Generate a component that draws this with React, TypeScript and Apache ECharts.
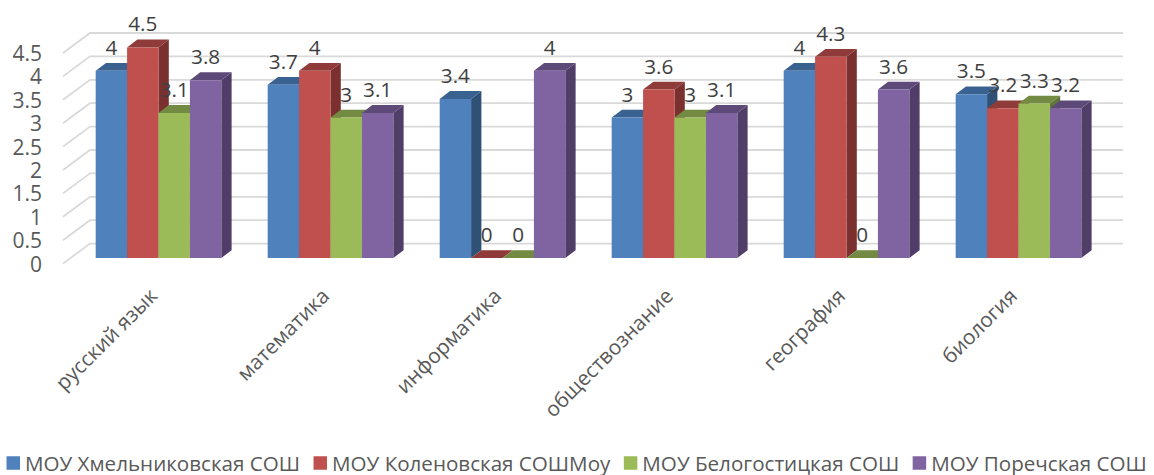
import React, { useEffect, useRef } from "react";
import * as echarts from "echarts";

const categories = ["русский язык", "математика", "информатика", "обществознание", "география", "биология"];
const schools = ["МОУ Хмельниковская СОШ", "МОУ Коленовская СОШМоу", "МОУ Белогостицкая СОШ", "МОУ Поречская СОШ"];
const khmelnikovskaya = [4, 3.7, 3.4, 3, 4, 3.5];
const kolenovskaya = [4.5, 4, 0, 3.6, 4.3, 3.2];
const belogostitskaya = [3.1, 3, 0, 3, 0, 3.3];
const porechskaya = [3.8, 3.1, 4, 3.1, 3.6, 3.2];
const seriesValues = [khmelnikovskaya, kolenovskaya, belogostitskaya, porechskaya];
const yTicks = [0, 0.5, 1, 1.5, 2, 2.5, 3, 3.5, 4, 4.5];
const frontColors = ["#4f81bd", "#c0504d", "#9bbb59", "#8064a2"];
const topColors = ["#3a6291", "#8e3b39", "#728a41", "#5e4a78"];
const sideColors = ["#2f5175", "#7a302e", "#5f7436", "#503d68"];

const FONT = "'Open Sans', sans-serif";
const BAR_DX = 10.3;
const BAR_DY = 7.8;
const WALL_DX = 27;
const WALL_DY = 20;

export default function App() {
  const ref = useRef<HTMLDivElement>(null);
  useEffect(() => {
    document.body.style.margin = "0";
    const chart = echarts.init(ref.current!, null, { renderer: "svg" });
    const barSeries = seriesValues.map((values, s) => ({
      type: "custom",
      name: schools[s],
      coordinateSystem: "cartesian2d",
      xAxisIndex: 1,
      yAxisIndex: 1,
      z: 3 + s,
      clip: false,
      itemStyle: { color: frontColors[s] },
      data: values.map((v, i) => [i, v]),
      encode: { x: 0, y: 1 },
      renderItem: (_p: any, api: any) => {
        const band = api.size([1, 0])[0];
        const w = band * 0.1826;
        const val = api.value(1);
        const top = api.coord([api.value(0), val]);
        const base = api.coord([api.value(0), 0]);
        const x0 = top[0] - 2 * w + s * w;
        const x1 = x0 + w;
        const yT = top[1];
        const yB = base[1];
        const fill = (points: number[][], color: string) => ({
          type: "polygon",
          shape: { points },
          style: { fill: color, stroke: null },
        });
        return {
          type: "group",
          children: [
            fill([[x1, yT], [x1 + BAR_DX, yT - BAR_DY], [x1 + BAR_DX, yB - BAR_DY], [x1, yB]], sideColors[s]),
            fill([[x0, yT], [x0 + BAR_DX, yT - BAR_DY], [x1 + BAR_DX, yT - BAR_DY], [x1, yT]], topColors[s]),
            fill([[x0, yT], [x1, yT], [x1, yB], [x0, yB]], frontColors[s]),
            {
              type: "text",
              z2: 1000,
              style: {
                x: (x0 + x1) / 2,
                y: yT - 24,
                text: String(val),
                fill: "#404040",
                font: `20.7px ${FONT}`,
                align: "center",
                verticalAlign: "middle",
              },
            },
          ],
        };
      },
    }));
    chart.setOption({
      animation: false,
      backgroundColor: "#ffffff",
      legend: {
        left: 1.5,
        top: 447.5,
        width: 1400,
        icon: "rect",
        itemWidth: 13.5,
        itemHeight: 13.5,
        itemGap: 13.5,
        data: schools,
        textStyle: { color: "#595959", fontFamily: FONT, fontSize: 20.6 },
      },
      grid: [
        { left: 63, top: 53, width: 1033, height: 210.6 },
        { left: 72.5, top: 47.4, width: 1032, height: 210.6 },
      ],
      xAxis: [
        { type: "value", gridIndex: 0, min: 0, max: 1, show: false },
        {
          type: "category",
          gridIndex: 1,
          data: categories,
          axisLine: { show: false },
          axisTick: { show: false },
          axisLabel: {
            rotate: 45,
            interval: 0,
            margin: 28,
            padding: [0, 8, 0, 0],
            color: "#595959",
            fontFamily: FONT,
            fontSize: 20.7,
          },
        },
      ],
      yAxis: [
        {
          type: "value",
          gridIndex: 0,
          min: 0,
          max: 4.5,
          interval: 0.5,
          axisLine: { show: false },
          axisTick: { show: false },
          splitLine: { show: false },
          axisLabel: {
            margin: 21,
            padding: [7, 0, 0, 0],
            color: "#595959",
            fontFamily: FONT,
            fontSize: 21,
            formatter: (v: number) => String(v),
          },
        },
        { type: "value", gridIndex: 1, min: 0, max: 4.5, show: false },
      ],
      series: [
        {
          type: "custom",
          silent: true,
          coordinateSystem: "cartesian2d",
          xAxisIndex: 0,
          yAxisIndex: 0,
          z: 1,
          clip: false,
          data: yTicks.map((t) => [0, t]),
          encode: { x: 0, y: 1 },
          renderItem: (_p: any, api: any) => {
            const v = api.value(1);
            const a = api.coord([0, v]);
            const b = api.coord([1, v]);
            return {
              type: "polyline",
              shape: { points: [[a[0], a[1]], [a[0] + WALL_DX, a[1] - WALL_DY], [b[0] + WALL_DX, b[1] - WALL_DY]] },
              style: { fill: "none", stroke: "#d9d9d9", lineWidth: 1.8 },
            };
          },
        },
        ...barSeries,
      ],
    });
    return () => chart.dispose();
  }, []);
  return <div ref={ref} style={{ width: 1154, height: 475 }} />;
}
